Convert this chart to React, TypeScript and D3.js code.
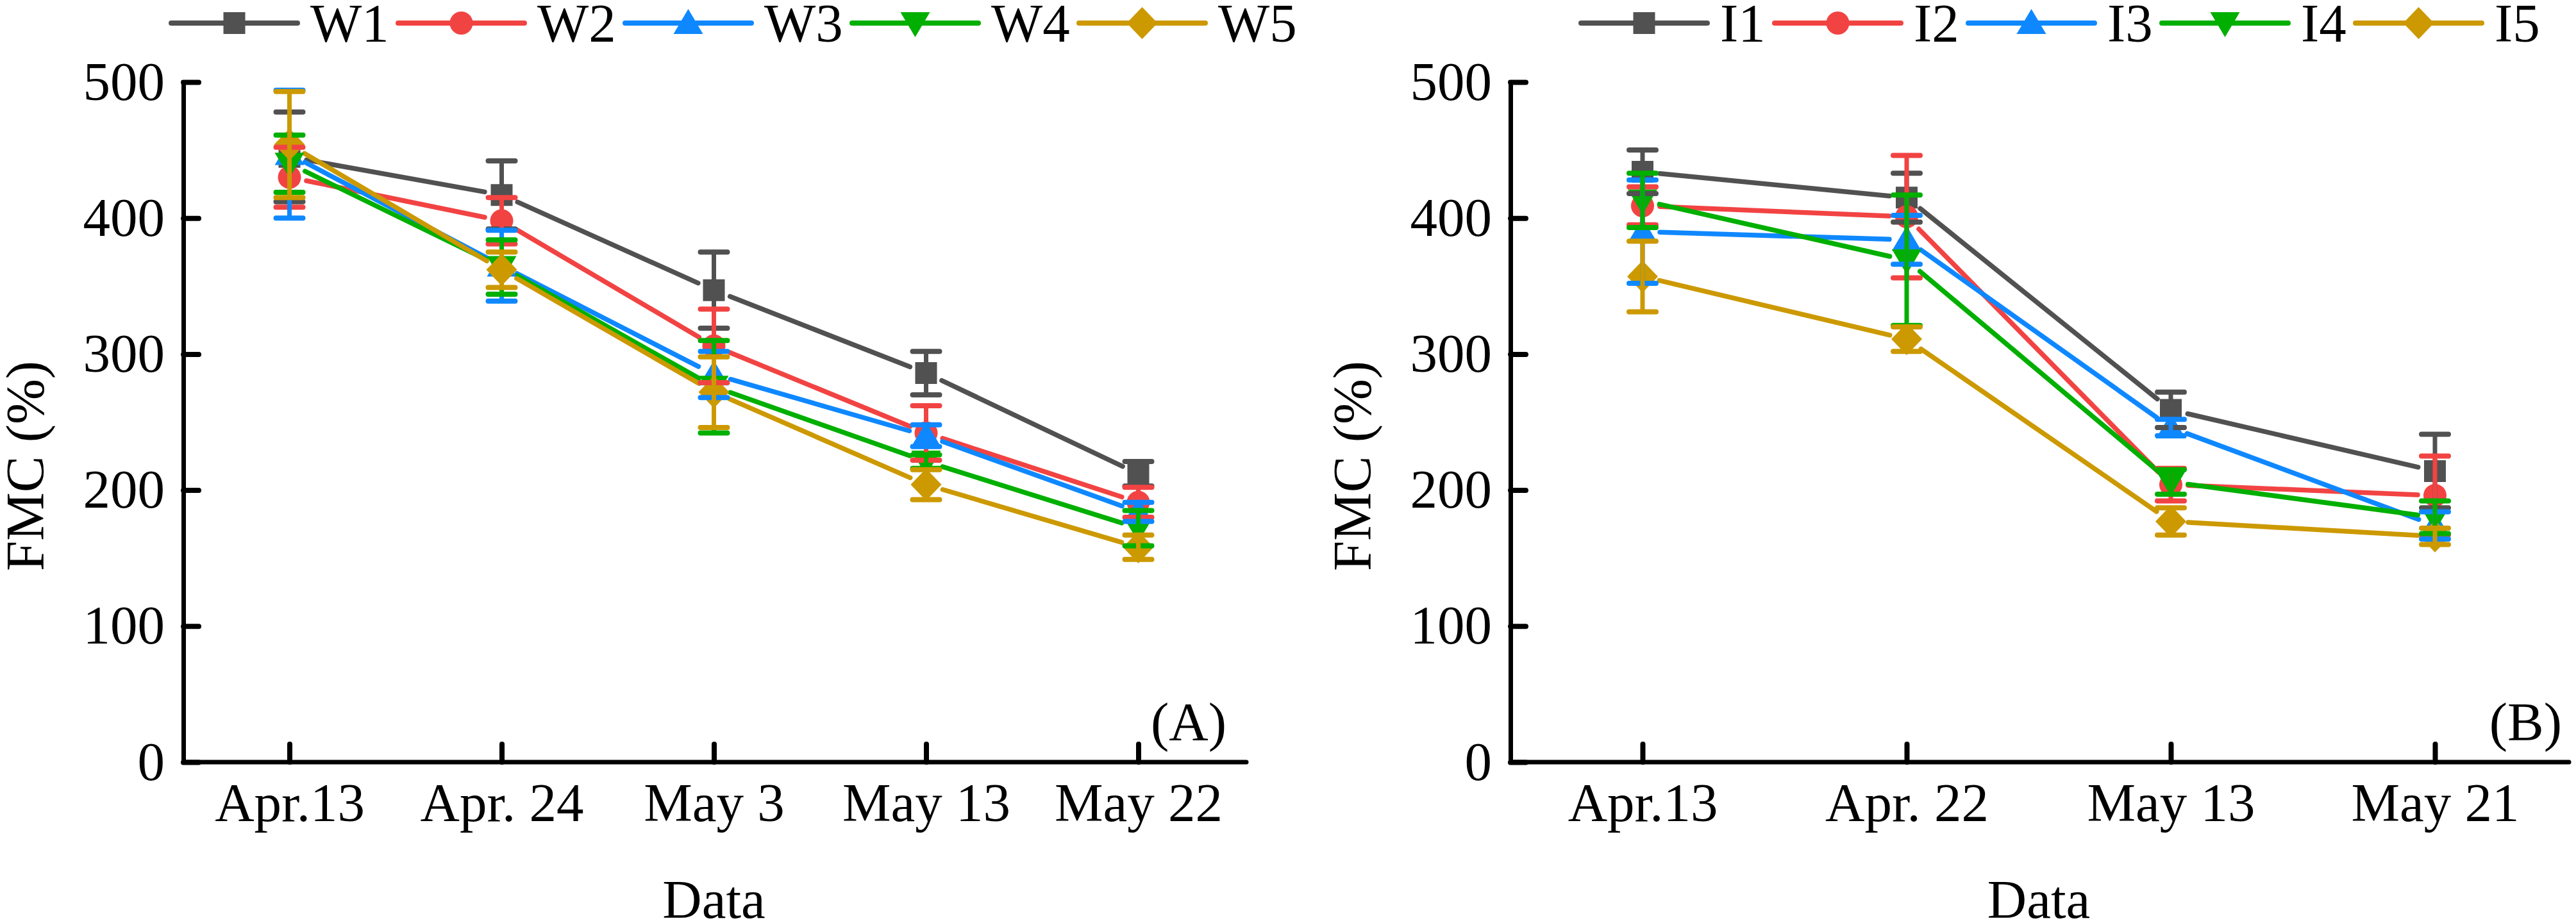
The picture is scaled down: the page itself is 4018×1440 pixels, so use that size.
import React, { useEffect, useRef } from "react";
import * as d3 from "d3";

// Sampling dates for the two panels
const datesA = ["Apr.13", "Apr. 24", "May 3", "May 13", "May 22"];
const datesB = ["Apr.13", "Apr. 22", "May 13", "May 21"];

const namesA = ["W1", "W2", "W3", "W4", "W5"];
const namesB = ["I1", "I2", "I3", "I4", "I5"];

// Panel A: FMC means and error (+/-)
const w1 = [445, 417, 347, 286, 212];
const w1Err = [33, 25, 28, 16, 9];
const w2 = [430, 398, 306, 242, 191];
const w2Err = [22, 17, 27, 20, 11];
const w3 = [447, 365, 285, 240, 184];
const w3Err = [47, 26, 17, 8, 7];
const w4 = [440, 364, 276, 221, 172];
const w4Err = [21, 20, 34, 5, 13];
const w5 = [454, 362, 272, 204, 158];
const w5Err = [39, 13, 26, 11, 9];

// Panel B
const i1 = [434, 415, 259, 214];
const i1Err = [16, 18, 13, 27];
const i2 = [409, 401, 204, 196];
const i2Err = [14, 45, 12, 29];
const i3 = [390, 384, 246, 174];
const i3Err = [38, 18, 6, 10];
const i4 = [413, 369, 206, 180];
const i4Err = [20, 48, 9, 12];
const i5 = [357, 311, 177, 166];
const i5Err = [26, 9, 10, 6];

const yTicks = [0, 100, 200, 300, 400, 500];

const colors = ["#515151", "#F24343", "#0F88FF", "#00AF00", "#CC9900"];
const shapes = ["square", "circle", "up", "down", "diamond"];

const FONT = "'Liberation Serif', 'Times New Roman', serif";
const FS = 85;

interface Series {
  name: string;
  values: number[];
  errs: number[];
}

const seriesA: Series[] = [
  { name: namesA[0], values: w1, errs: w1Err },
  { name: namesA[1], values: w2, errs: w2Err },
  { name: namesA[2], values: w3, errs: w3Err },
  { name: namesA[3], values: w4, errs: w4Err },
  { name: namesA[4], values: w5, errs: w5Err },
];

const seriesB: Series[] = [
  { name: namesB[0], values: i1, errs: i1Err },
  { name: namesB[1], values: i2, errs: i2Err },
  { name: namesB[2], values: i3, errs: i3Err },
  { name: namesB[3], values: i4, errs: i4Err },
  { name: namesB[4], values: i5, errs: i5Err },
];

function markerPath(shape: string): string {
  switch (shape) {
    case "square":
      return "M-17,-17H17V17H-17Z";
    case "circle":
      return "M-18,0A18,18 0 1,0 18,0A18,18 0 1,0 -18,0Z";
    case "up":
      return "M0,-22L23,17H-23Z";
    case "down":
      return "M0,22L23,-17H-23Z";
    default:
      return "M0,-25L24,0L0,25L-24,0Z";
  }
}

interface PanelOpts {
  left: number;
  right: number;
  legendX: number;
  legendStride: number;
  label: string;
  labelX: number;
  titleX: number;
}

function drawPanel(
  svg: d3.Selection<SVGSVGElement, unknown, null, undefined>,
  cats: string[],
  series: Series[],
  o: PanelOpts
) {
  const top = 128;
  const bottom = 1189;

  const x = d3.scalePoint<string>().domain(cats).range([o.left, o.right]).padding(0.5);
  const y = d3.scaleLinear().domain([0, 500]).range([bottom, top]);

  const g = svg.append("g");

  // Y axis
  const ya = g.append("g")
    .attr("transform", `translate(${o.left},0)`)
    .call(d3.axisLeft(y).tickValues(yTicks).tickSizeInner(-24).tickSizeOuter(0).tickPadding(29));
  ya.select(".domain").attr("stroke", "#000").attr("stroke-width", 7).attr("stroke-linecap", "square");
  ya.selectAll(".tick line").attr("stroke", "#000").attr("stroke-width", 8).attr("stroke-linecap", "round");
  ya.selectAll(".tick text")
    .attr("font-family", FONT).attr("font-size", FS).attr("fill", "#000").attr("dy", 27);

  // X axis
  const xa = g.append("g")
    .attr("transform", `translate(0,${bottom})`)
    .call(d3.axisBottom(x).tickSizeInner(-28).tickSizeOuter(0).tickPadding(32));
  xa.select(".domain")
    .attr("d", `M${o.left},0H${o.right + 3}`)
    .attr("stroke", "#000").attr("stroke-width", 7).attr("stroke-linecap", "round");
  xa.selectAll(".tick line").attr("stroke", "#000").attr("stroke-width", 8).attr("stroke-linecap", "round");
  xa.selectAll(".tick text")
    .attr("font-family", FONT).attr("font-size", FS).attr("fill", "#000").attr("dy", "0.71em");

  // Axis titles
  g.append("text")
    .attr("transform", `translate(${o.titleX},727) rotate(-90)`)
    .attr("text-anchor", "middle")
    .attr("font-family", FONT).attr("font-size", FS)
    .text("FMC (%)");

  g.append("text")
    .attr("x", (o.left + o.right) / 2)
    .attr("y", 1432)
    .attr("text-anchor", "middle")
    .attr("font-family", FONT).attr("font-size", FS)
    .text("Data");

  g.append("text")
    .attr("x", o.labelX)
    .attr("y", 1155)
    .attr("text-anchor", "end")
    .attr("font-family", FONT).attr("font-size", FS)
    .text(o.label);

  // Lines with a small gap around each symbol
  const gap = 27;
  series.forEach((s, si) => {
    const pts = s.values.map((v, i) => [x(cats[i])!, y(v)]);
    for (let i = 0; i < pts.length - 1; i++) {
      const [x0, y0] = pts[i];
      const [x1, y1] = pts[i + 1];
      const len = Math.hypot(x1 - x0, y1 - y0);
      const ux = (x1 - x0) / len;
      const uy = (y1 - y0) / len;
      g.append("line")
        .attr("x1", x0 + ux * gap).attr("y1", y0 + uy * gap)
        .attr("x2", x1 - ux * gap).attr("y2", y1 - uy * gap)
        .attr("stroke", colors[si]).attr("stroke-width", 7.5).attr("stroke-linecap", "round");
    }
  });

  // Symbols
  series.forEach((s, si) => {
    g.append("g").selectAll("path")
      .data(s.values)
      .enter()
      .append("path")
      .attr("d", markerPath(shapes[si]))
      .attr("transform", (v, i) => `translate(${x(cats[i])},${y(v)})`)
      .attr("fill", colors[si]);
  });

  // Error bars on top
  series.forEach((s, si) => {
    const eg = g.append("g").attr("stroke", colors[si]).attr("stroke-linecap", "round");
    s.values.forEach((v, i) => {
      const cx = x(cats[i])!;
      const yHi = y(v + s.errs[i]);
      const yLo = y(v - s.errs[i]);
      eg.append("line").attr("x1", cx).attr("x2", cx).attr("y1", yHi).attr("y2", yLo).attr("stroke-width", 7);
      eg.append("line").attr("x1", cx - 21).attr("x2", cx + 21).attr("y1", yHi).attr("y2", yHi).attr("stroke-width", 8);
      eg.append("line").attr("x1", cx - 21).attr("x2", cx + 21).attr("y1", yLo).attr("y2", yLo).attr("stroke-width", 8);
    });
  });

  // Legend
  const lineLen = 197;
  series.forEach((s, si) => {
    const lx = o.legendX + si * o.legendStride;
    const lg = g.append("g");
    lg.append("line")
      .attr("x1", lx).attr("x2", lx + lineLen).attr("y1", 36).attr("y2", 36)
      .attr("stroke", colors[si]).attr("stroke-width", 8).attr("stroke-linecap", "round");
    lg.append("path")
      .attr("d", markerPath(shapes[si]))
      .attr("transform", `translate(${lx + lineLen / 2},36)`)
      .attr("fill", colors[si]);
    lg.append("text")
      .attr("x", lx + lineLen + 20)
      .attr("y", 65)
      .attr("font-family", FONT).attr("font-size", FS)
      .text(s.name);
  });
}

const App: React.FC = () => {
  const svgRef = useRef<SVGSVGElement | null>(null);

  useEffect(() => {
    if (!svgRef.current) return;
    const svg = d3.select(svgRef.current);
    svg.selectAll("*").remove();

    drawPanel(svg, datesA, seriesA, {
      left: 286, right: 1941, legendX: 267, legendStride: 354,
      label: "(A)", labelX: 1913, titleX: 68,
    });
    drawPanel(svg, datesB, seriesB, {
      left: 2356, right: 4004, legendX: 2466, legendStride: 302,
      label: "(B)", labelX: 3996, titleX: 2138,
    });
  }, []);

  return (
    <svg
      ref={svgRef}
      width={4018}
      height={1440}
      style={{ position: "absolute", left: 0, top: 0, background: "#fff" }}
    />
  );
};

export default App;
